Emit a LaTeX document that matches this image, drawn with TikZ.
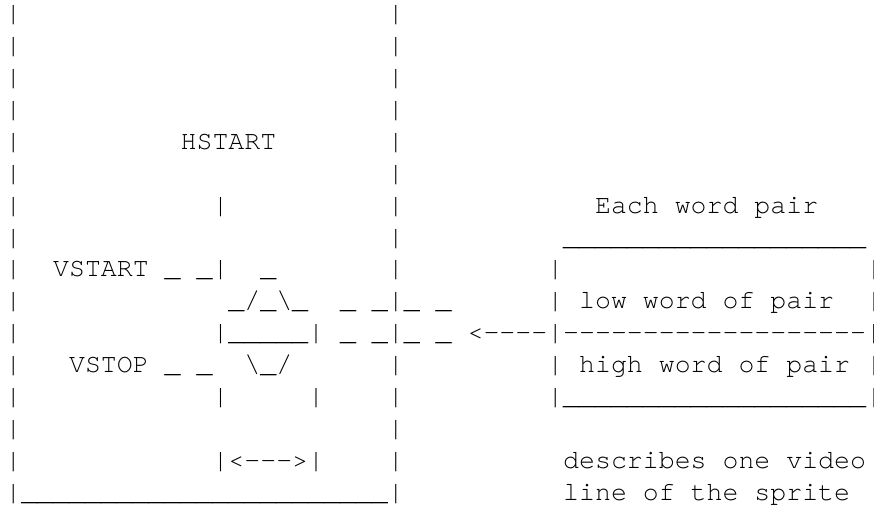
\documentclass[tikz,border=0pt]{standalone}
\usepackage{fontspec}
\setmonofont{TeX Gyre Cursor}
\newcommand\us{\_}
\newcommand\bs{\textbackslash}
\tikzset{
  txt/.style={anchor=base west, inner sep=0pt, outer sep=0pt,
    font=\ttfamily\fontsize{26.56pt}{31.87pt}\selectfont, text=black},
}
\begin{document}
\begin{tikzpicture}[x=15.94pt, y=-31.87pt]
\useasboundingbox (0pt,0pt) rectangle (874pt,-506pt);
\begin{scope}[shift={(0.334,0.69)}]
% left frame
\foreach \r in {0,...,14} {
  \node[txt] (L\r) at (0,\r) {|};
}
\foreach \r in {0,...,14} {
  \node[txt] (R\r) at (24,\r) {|};
}
\node[txt] (bottom) at (0,15) {|\us\us\us\us\us\us\us\us\us\us\us\us\us\us\us\us\us\us\us\us\us\us\us|};
% sprite labels
\node[txt] (hstart) at (11,4) {HSTART};
\node[txt] (hmark) at (13,6) {|};
\node[txt] (vstart) at (3,8) {VSTART};
\node[txt] (vsa) at (10,8) {\us};
\node[txt] (vsb) at (12,8) {\us};
\node[txt] (vsc) at (13,8) {|};
\node[txt] (top) at (16,8) {\us};
\node[txt] (mid) at (14,9) {\us/\us\bs\us};
\node[txt] (m9a) at (21,9) {\us};
\node[txt] (m9b) at (23,9) {\us};
\node[txt] (m9c) at (25,9) {\us};
\node[txt] (m9d) at (27,9) {\us};
\node[txt] (body) at (13,10) {|\us\us\us\us\us|};
\node[txt] (m10a) at (21,10) {\us};
\node[txt] (m10b) at (23,10) {\us};
\node[txt] (m10c) at (25,10) {\us};
\node[txt] (m10d) at (27,10) {\us};
\node[txt] (arrow) at (29,10) {<----|-------------------|};
\node[txt] (vstop) at (4,11) {VSTOP};
\node[txt] (vpa) at (10,11) {\us};
\node[txt] (vpb) at (12,11) {\us};
\node[txt] (bot) at (15,11) {\bs\us/};
\node[txt] (w1) at (13,12) {|};
\node[txt] (w2) at (19,12) {|};
\node[txt] (width) at (13,14) {|<--->|};
% word pair box
\node[txt] (each) at (37,6) {Each word pair};
\node[txt] (boxtop) at (35,7) {\us\us\us\us\us\us\us\us\us\us\us\us\us\us\us\us\us\us\us};
\node[txt] (b8l) at (34,8) {|};
\node[txt] (b8r) at (54,8) {|};
\node[txt] (b9l) at (34,9) {|};
\node[txt] (low) at (36,9) {low word of pair};
\node[txt] (b9r) at (54,9) {|};
\node[txt] (b11l) at (34,11) {|};
\node[txt] (high) at (36,11) {high word of pair};
\node[txt] (b11r) at (54,11) {|};
\node[txt] (boxbot) at (34,12) {|\us\us\us\us\us\us\us\us\us\us\us\us\us\us\us\us\us\us\us|};
\node[txt] (desc1) at (35,14) {describes one video};
\node[txt] (desc2) at (35,15) {line of the sprite};
\end{scope}
\end{tikzpicture}
\end{document}
